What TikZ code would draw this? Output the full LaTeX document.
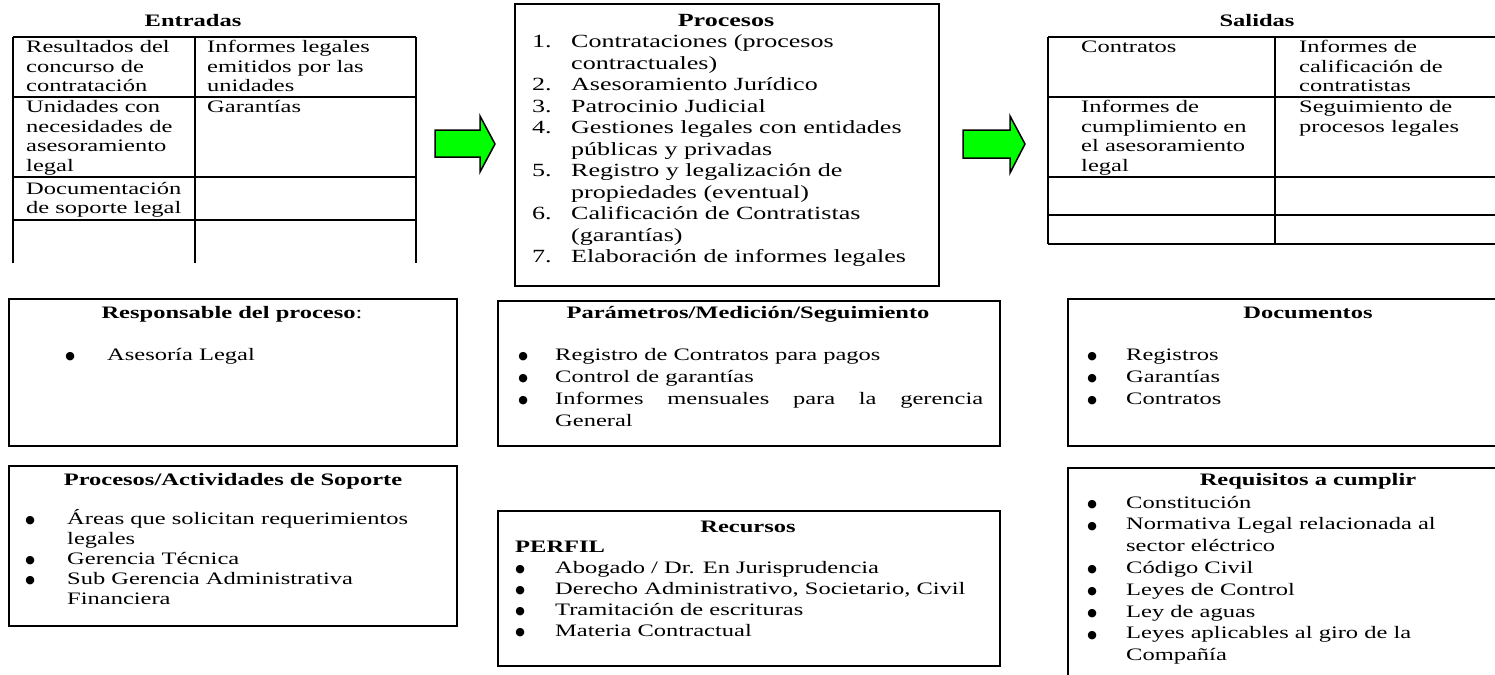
\documentclass[tikz,border=0pt]{standalone}
\usepackage{fontspec}
\setmainfont{Liberation Serif}[FakeStretch=1.4]
\newfontfamily\symfont{DejaVu Sans}

% list helpers: first baseline is the node's baseline
\newcommand\bul{\raisebox{0.6pt}{\symfont\fontsize{11pt}{10pt}\selectfont ●}}
\newcommand\blines[2]{\vtop{\baselineskip=#1\lineskiplimit=-\maxdimen\lineskip=0pt\halign{##\hfil\cr#2\crcr}}}
\newcommand\blist[3]{\vtop{\baselineskip=#1\lineskiplimit=-\maxdimen\lineskip=0pt\halign{\hbox to #2{\hss##\hss}&##\hfil\cr#3\crcr}}}
\newcommand\nlist[3]{\vtop{\baselineskip=#1\lineskiplimit=-\maxdimen\lineskip=0pt\halign{\hbox to #2{##\hfil}&##\hfil\cr#3\crcr}}}

\definecolor{arrowgreen}{RGB}{0,255,0}

\tikzset{
  txt/.style={anchor=base west, inner sep=0pt, font=\fontsize{17.5pt}{20pt}\selectfont},
  ttl/.style={anchor=base, inner sep=0pt, font=\fontsize{17.5pt}{20pt}\selectfont\bfseries},
  bigtxt/.style={txt, font=\fontsize{18.6pt}{21.5pt}\selectfont},
  boxst/.style={draw, line width=1.8pt, anchor=north west, inner sep=0pt},
  grid/.style={line width=1.4pt},
  blockarrow/.style={fill=arrowgreen, draw=black, line width=1.5pt, line join=miter}
}

\begin{document}
\begin{tikzpicture}[x=1pt,y=-1pt]
\path[use as bounding box] (0,0) rectangle (1495,674);
\clip (0,0) rectangle (1495,674);

% ---------- Entradas ----------
\node[ttl] (tin) at (193,27) {Entradas};
\draw[grid] (13,37) -- (416,37) (13,97) -- (416,97) (13,177) -- (416,177) (13,220) -- (416,220);
\draw[grid] (13,37) -- (13,263) (195,37) -- (195,263) (416,37) -- (416,263);
\node[txt] (in11) at (26,53) {\blines{19.5pt}{Resultados del\cr concurso de\cr contratación}};
\node[txt] (in12) at (207,53) {\blines{19.5pt}{Informes legales\cr emitidos por las\cr unidades}};
\node[txt] (in21) at (26,113) {\blines{19.5pt}{Unidades con\cr necesidades de\cr asesoramiento\cr legal}};
\node[txt] (in22) at (207,113) {Garantías};
\node[txt] (in31) at (26,194) {\blines{19.5pt}{Documentación\cr de soporte legal}};

% ---------- block arrows ----------
\filldraw[blockarrow] (435,130) -- (480,130) -- (480,116) -- (495,144) -- (480,172) -- (480,157) -- (435,157) -- cycle;
\filldraw[blockarrow] (963,130) -- (1010,130) -- (1010,116) -- (1025,144) -- (1010,173) -- (1010,158) -- (963,158) -- cycle;

% ---------- Procesos ----------
\node[boxst, minimum width=424pt, minimum height=282pt] (proc) at (514,3) {};
\node[ttl, font=\fontsize{18.6pt}{21.5pt}\selectfont\bfseries] (tproc) at (726,27) {Procesos};
\node[bigtxt] (lproc) at (532,48) {\nlist{21.5pt}{39pt}{%
1.&Contrataciones (procesos\cr
  &contractuales)\cr
2.&Asesoramiento Jurídico\cr
3.&Patrocinio Judicial\cr
4.&Gestiones legales con entidades\cr
  &públicas y privadas\cr
5.&Registro y legalización de\cr
  &propiedades (eventual)\cr
6.&Calificación de Contratistas\cr
  &(garantías)\cr
7.&Elaboración de informes legales}};

% ---------- Salidas ----------
\node[ttl] (tout) at (1257,27) {Salidas};
\draw[grid] (1048,37) -- (1500,37) (1048,97) -- (1500,97) (1048,177) -- (1500,177) (1048,215) -- (1500,215) (1048,244) -- (1500,244);
\draw[grid] (1048,37) -- (1048,244) (1275,37) -- (1275,244);
\node[txt] (out11) at (1081,53) {Contratos};
\node[txt] (out12) at (1299,53) {\blines{19.5pt}{Informes de\cr calificación de\cr contratistas}};
\node[txt] (out21) at (1081,113) {\blines{19.5pt}{Informes de\cr cumplimiento en\cr el asesoramiento\cr legal}};
\node[txt] (out22) at (1299,113) {\blines{19.5pt}{Seguimiento de\cr procesos legales}};

% ---------- Responsable del proceso ----------
\node[boxst, minimum width=448pt, minimum height=147pt] (resp) at (8,298) {};
\node[ttl] (tresp) at (232,318) {Responsable del proceso\textmd{:}};
\node[txt] (lresp) at (33,360) {\blist{21pt}{74pt}{\bul&Asesoría Legal}};

% ---------- Parametros ----------
\node[boxst, minimum width=502pt, minimum height=145pt] (param) at (497,300) {};
\node[ttl] (tparam) at (748,318) {Parámetros/Medición/Seguimiento};
\node[txt] (lparam) at (491,360) {\blist{22pt}{64pt}{%
\bul&Registro de Contratos para pagos\cr
\bul&Control de garantías\cr
\bul&\hbox to 428pt{Informes\hfill mensuales\hfill para\hfill la\hfill gerencia}\cr
    &General}};

% ---------- Documentos ----------
\node[boxst, minimum width=460pt, minimum height=147pt] (docs) at (1067,298) {};
\node[ttl] (tdocs) at (1308,318) {Documentos};
\node[txt] (ldocs) at (1058,360) {\blist{22pt}{68pt}{%
\bul&Registros\cr
\bul&Garantías\cr
\bul&Contratos}};

% ---------- Soporte ----------
\node[boxst, minimum width=448pt, minimum height=160pt] (sop) at (8,465) {};
\node[ttl] (tsop) at (233,485) {Procesos/Actividades de Soporte};
\node[txt] (lsop) at (-7,524) {\blist{20pt}{74pt}{%
\bul&Áreas que solicitan requerimientos\cr
    &legales\cr
\bul&Gerencia Técnica\cr
\bul&Sub Gerencia Administrativa\cr
    &Financiera}};

% ---------- Recursos ----------
\node[boxst, minimum width=502pt, minimum height=155pt] (rec) at (497,510) {};
\node[ttl] (trec) at (748,532) {Recursos};
\node[txt, font=\fontsize{17.5pt}{20pt}\selectfont\bfseries] (perfil) at (515,552) {PERFIL};
\node[txt] (lrec) at (485,573) {\blist{21pt}{70pt}{%
\bul&Abogado / Dr. En Jurisprudencia\cr
\bul&Derecho Administrativo, Societario, Civil\cr
\bul&Tramitación de escrituras\cr
\bul&Materia Contractual}};

% ---------- Requisitos ----------
\node[boxst, minimum width=460pt, minimum height=250pt] (req) at (1067,467) {};
\node[ttl] (treq) at (1308,485) {Requisitos a cumplir};
\node[txt] (lreq) at (1058,508) {\blist{21.8pt}{68pt}{%
\bul&Constitución\cr
\bul&Normativa Legal relacionada al\cr
    &sector eléctrico\cr
\bul&Código Civil\cr
\bul&Leyes de Control\cr
\bul&Ley de aguas\cr
\bul&Leyes aplicables al giro de la\cr
    &Compañía}};
\end{tikzpicture}
\end{document}
